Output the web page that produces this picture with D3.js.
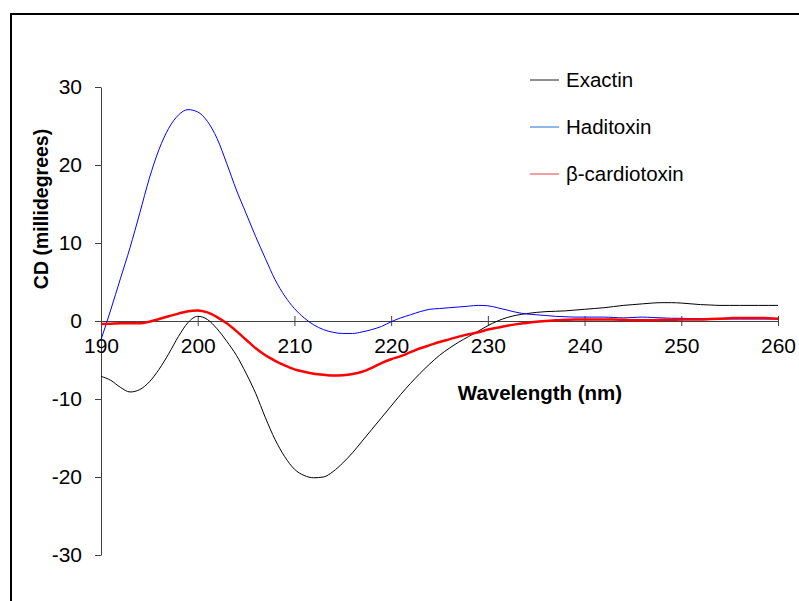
<!DOCTYPE html>
<html>
<head>
<meta charset="utf-8">
<script src="https://cdn.jsdelivr.net/npm/d3@7"></script>
<style>
  body { margin: 0; background: #fff; }
  svg { display: block; font-family: "Liberation Sans", Arial, sans-serif; }
</style>
</head>
<body>
<svg id="chart" width="799" height="601"></svg>
<script>
// Wavelength (nm)
const wavelengths = [
  190, 191, 192, 193, 194, 195, 196, 197, 198, 199,
  200, 201, 202, 203, 204, 205, 206, 207, 208, 209,
  210, 211, 212, 213, 214, 215, 216, 217, 218, 219,
  220, 221, 222, 223, 224, 225, 226, 227, 228, 229,
  230, 231, 232, 233, 234, 235, 236, 237, 238, 239,
  240, 241, 242, 243, 244, 245, 246, 247, 248, 249,
  250, 251, 252, 253, 254, 255, 256, 257, 258, 259, 260
];

const exactin = [
  -7.1, -7.6, -8.5, -9.1, -8.8, -7.8, -6.2, -4.2, -2.0, -0.2,
  0.6, 0.2, -1.0, -2.6, -4.4, -6.7, -9.3, -12.4, -15.2, -17.4,
  -19.0, -19.8, -20.1, -20.0, -19.3, -18.2, -16.9, -15.4, -13.9, -12.4,
  -10.9, -9.4, -8.0, -6.7, -5.5, -4.4, -3.5, -2.7, -2.0, -1.3,
  -0.6, 0.0, 0.45, 0.75, 0.95, 1.1, 1.2, 1.25, 1.3, 1.4,
  1.5, 1.6, 1.7, 1.85, 2.0, 2.1, 2.2, 2.3, 2.35, 2.35,
  2.3, 2.2, 2.1, 2.05, 2.0, 2.0, 2.0, 2.0, 2.0, 2.0, 2.0
];

const haditoxin = [
  -2.4, 1.4, 5.4, 9.4, 13.8, 18.3, 22.0, 24.7, 26.4, 27.1,
  26.8, 25.6, 23.4, 20.2, 16.8, 13.8, 10.8, 8.0, 5.3, 3.2,
  1.6, 0.4, -0.5, -1.1, -1.45, -1.6, -1.6, -1.4, -1.1, -0.7,
  -0.1, 0.4, 0.8, 1.2, 1.5, 1.6, 1.7, 1.8, 1.9, 2.0,
  1.95, 1.7, 1.4, 1.1, 0.9, 0.8, 0.7, 0.6, 0.55, 0.5,
  0.5, 0.5, 0.5, 0.45, 0.4, 0.45, 0.5, 0.45, 0.4, 0.35,
  0.35, 0.3, 0.3, 0.25, 0.25, 0.25, 0.25, 0.25, 0.25, 0.25, 0.25
];

const cardiotoxin = [
  -0.4, -0.35, -0.3, -0.3, -0.3, -0.1, 0.25, 0.6, 0.95, 1.25,
  1.35, 1.1, 0.5, -0.3, -1.3, -2.4, -3.5, -4.4, -5.1, -5.7,
  -6.2, -6.5, -6.75, -6.9, -7.0, -6.95, -6.8, -6.5, -6.0, -5.4,
  -4.9, -4.5, -4.0, -3.5, -3.1, -2.7, -2.35, -2.0, -1.7, -1.45,
  -1.1, -0.85, -0.6, -0.4, -0.25, -0.1, 0.0, 0.1, 0.15, 0.2,
  0.2, 0.2, 0.2, 0.2, 0.15, 0.1, 0.1, 0.1, 0.15, 0.15,
  0.2, 0.2, 0.2, 0.25, 0.3, 0.35, 0.4, 0.4, 0.4, 0.35, 0.3
];

const seriesNames = ["Exactin", "Haditoxin", "β-cardiotoxin"];
const seriesColors = ["#000000", "#0000ff", "#ff0000"];
const legendColors = ["#222222", "#1f6fd0", "#f03c3c"];
const seriesWidths = [1, 1, 2.5];
const xTicks = [190, 200, 210, 220, 230, 240, 250, 260];
const yTicks = [-30, -20, -10, 0, 10, 20, 30];

const svg = d3.select("#chart");

// outer frame
svg.append("rect")
  .attr("x", 11)
  .attr("y", 14)
  .attr("width", 800)
  .attr("height", 600)
  .attr("fill", "none")
  .attr("stroke", "#000")
  .attr("stroke-width", 2);

const x = d3.scaleLinear().domain([190, 260]).range([101, 778]);
const y = d3.scaleLinear().domain([-30, 30]).range([555, 87]);

const axisColor = "#404040";

// Y axis
const yAxis = svg.append("g")
  .attr("transform", `translate(${x(190)},0)`)
  .call(d3.axisLeft(y).tickValues(yTicks).tickFormat(d => String(d))
    .tickSize(6).tickSizeOuter(0).tickPadding(13));
yAxis.select(".domain").attr("stroke", axisColor);
yAxis.selectAll(".tick line").attr("stroke", axisColor);
yAxis.selectAll(".tick text")
  .attr("fill", "#000")
  .style("font-size", "21px");

// X axis at zero
const xAxis = svg.append("g")
  .attr("transform", `translate(0,${y(0)})`)
  .call(d3.axisBottom(x).tickValues(xTicks).tickFormat(d => String(d))
    .tickSize(5).tickSizeOuter(0));
xAxis.select(".domain").attr("stroke", axisColor);
xAxis.selectAll(".tick line").attr("stroke", axisColor).attr("y1", -5).attr("y2", 5);
xAxis.selectAll(".tick text")
  .attr("fill", "#000")
  .attr("y", 32)
  .attr("dy", 0)
  .style("font-size", "21px");

// Lines
const allSeries = [exactin, haditoxin, cardiotoxin];
const line = d3.line()
  .x((d, i) => x(wavelengths[i]))
  .y(d => y(d))
  .curve(d3.curveMonotoneX);

allSeries.forEach((vals, k) => {
  svg.append("path")
    .datum(vals)
    .attr("fill", "none")
    .attr("stroke", seriesColors[k])
    .attr("stroke-width", seriesWidths[k])
    .attr("stroke-linejoin", "round")
    .attr("d", line);
});

// Axis titles
svg.append("text")
  .attr("x", 540)
  .attr("y", 400)
  .attr("text-anchor", "middle")
  .style("font-size", "20.5px")
  .style("font-weight", "bold")
  .text("Wavelength (nm)");

svg.append("text")
  .attr("transform", "translate(48,209) rotate(-90)")
  .attr("text-anchor", "middle")
  .style("font-size", "19.5px")
  .style("font-weight", "bold")
  .text("CD (millidegrees)");

// Legend
const legendY = [80, 127, 174];
seriesNames.forEach((name, k) => {
  svg.append("line")
    .attr("x1", 530).attr("x2", 559)
    .attr("y1", legendY[k]).attr("y2", legendY[k])
    .attr("stroke", legendColors[k])
    .attr("stroke-width", 1);
  svg.append("text")
    .attr("x", 566)
    .attr("y", legendY[k])
    .attr("dy", "0.35em")
    .style("font-size", "20.5px")
    .text(name);
});
</script>
</body>
</html>
